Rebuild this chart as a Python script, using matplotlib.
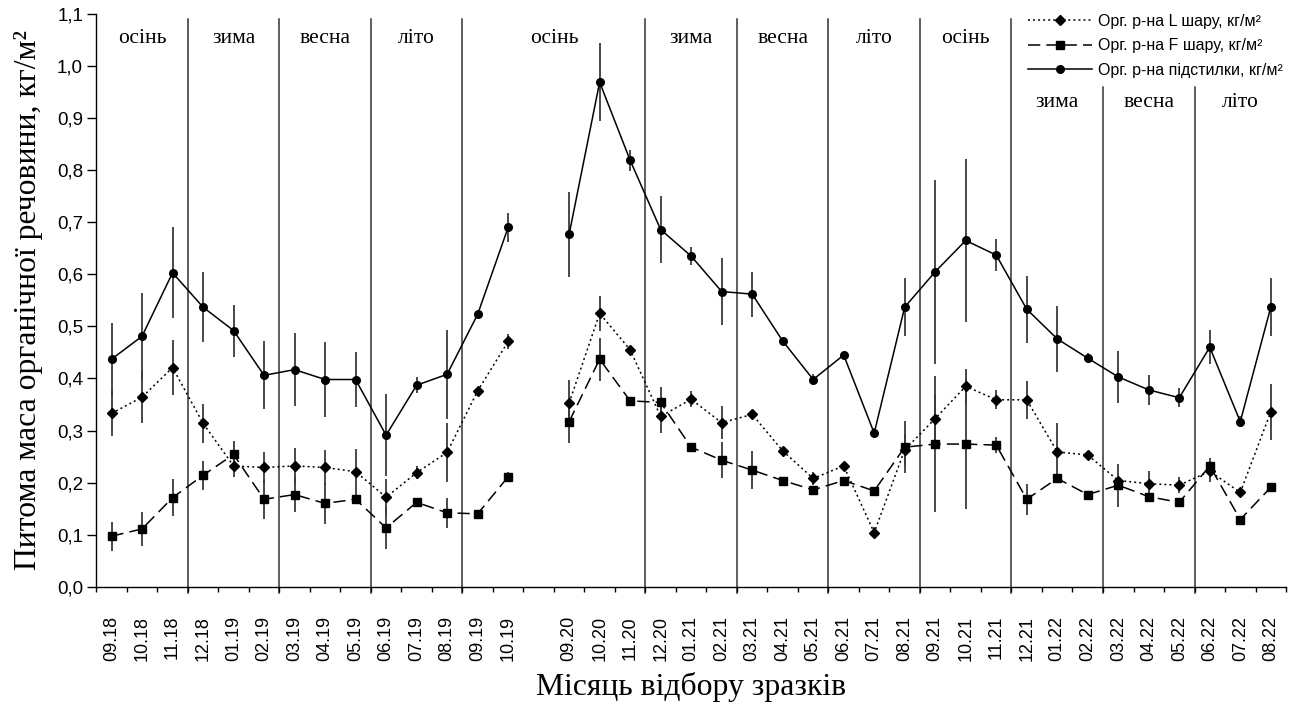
import numpy as np
import matplotlib
matplotlib.use("Agg")
import matplotlib.pyplot as plt
from matplotlib.ticker import FixedLocator, FuncFormatter

nan = np.nan

# Sampling months (empty slot separates the 2018-19 and 2020-22 campaigns)
months = ['09.18', '10.18', '11.18', '12.18', '01.19', '02.19', '03.19', '04.19',
          '05.19', '06.19', '07.19', '08.19', '09.19', '10.19', '',
          '09.20', '10.20', '11.20', '12.20', '01.21', '02.21', '03.21', '04.21',
          '05.21', '06.21', '07.21', '08.21', '09.21', '10.21', '11.21', '12.21',
          '01.22', '02.22', '03.22', '04.22', '05.22', '06.22', '07.22', '08.22']

# Organic matter of the L layer, kg/m2
layer_L = [0.333, 0.364, 0.421, 0.314, 0.232, 0.229, 0.232, 0.229, 0.221, 0.172,
           0.219, 0.258, 0.376, 0.471, nan,
           0.353, 0.525, 0.455, 0.327, 0.360, 0.315, 0.331, 0.261, 0.208, 0.232,
           0.104, 0.263, 0.323, 0.385, 0.359, 0.359, 0.259, 0.253, 0.204, 0.198,
           0.195, 0.222, 0.181, 0.336]
err_L = [0.044, 0.050, 0.052, 0.037, 0.022, 0.030, 0.034, 0.033, 0.043, 0.035,
         0.012, 0.056, 0.005, 0.015, nan,
         0.044, 0.033, 0.005, 0.032, 0.015, 0.032, 0.005, 0.005, 0.012, 0.005,
         0.010, 0.030, 0.045, 0.034, 0.018, 0.037, 0.056, 0.005, 0.005, 0.025,
         0.015, 0.020, 0.005, 0.054]

# Organic matter of the F layer, kg/m2
layer_F = [0.097, 0.111, 0.171, 0.214, 0.254, 0.168, 0.177, 0.160, 0.168, 0.113,
           0.162, 0.142, 0.140, 0.211, nan,
           0.317, 0.437, 0.357, 0.354, 0.268, 0.243, 0.224, 0.204, 0.186, 0.204,
           0.184, 0.268, 0.274, 0.274, 0.272, 0.168, 0.208, 0.177, 0.195, 0.173,
           0.162, 0.232, 0.129, 0.191]
err_F = [0.028, 0.033, 0.036, 0.028, 0.026, 0.037, 0.033, 0.040, 0.010, 0.041,
         0.005, 0.029, 0.005, 0.010, nan,
         0.040, 0.041, 0.005, 0.030, 0.005, 0.035, 0.037, 0.005, 0.005, 0.005,
         0.005, 0.050, 0.130, 0.125, 0.015, 0.030, 0.005, 0.005, 0.041, 0.005,
         0.005, 0.015, 0.005, 0.005]

# Organic matter of the whole litter, kg/m2
litter = [0.437, 0.481, 0.603, 0.537, 0.492, 0.406, 0.417, 0.398, 0.398, 0.291,
          0.387, 0.408, 0.523, 0.690, nan,
          0.677, 0.969, 0.819, 0.686, 0.635, 0.567, 0.562, 0.472, 0.398, 0.445,
          0.295, 0.537, 0.605, 0.665, 0.637, 0.533, 0.476, 0.439, 0.403, 0.378,
          0.363, 0.460, 0.317, 0.537]
err_litter = [0.070, 0.083, 0.087, 0.067, 0.050, 0.065, 0.070, 0.072, 0.053, 0.079,
              0.015, 0.086, 0.005, 0.028, nan,
              0.082, 0.075, 0.020, 0.065, 0.018, 0.065, 0.043, 0.005, 0.010, 0.005,
              0.010, 0.056, 0.177, 0.157, 0.030, 0.064, 0.063, 0.010, 0.050, 0.029,
              0.018, 0.033, 0.010, 0.056]

# Season bands: (label, first slot, last slot + 1, label row)
season_names = ['осінь', 'зима', 'весна', 'літо', 'осінь', 'зима', 'весна', 'літо',
                'осінь', 'зима', 'весна', 'літо']
season_edges = [0, 3, 6, 9, 12, 18, 21, 24, 27, 30, 33, 36, 39]
season_rows = [0, 0, 0, 0, 0, 0, 0, 0, 0, 1, 1, 1]

serif = ['Liberation Serif', 'DejaVu Serif']
sans = ['Liberation Sans', 'DejaVu Sans']
plt.rcParams['font.family'] = sans

fig = plt.figure(figsize=(13.01, 7.08), dpi=100)
ax = fig.add_axes([0.074, 0.1713, 0.9145, 0.8089])

x = np.arange(len(months))
ink = 'black'
bar_col = '#3a3a3a'

ax.errorbar(x, litter, yerr=err_litter, fmt='none', ecolor=bar_col, elinewidth=1.3,
            capsize=0, zorder=2)
ax.errorbar(x, layer_L, yerr=err_L, fmt='none', ecolor=bar_col, elinewidth=1.3,
            capsize=0, zorder=2)
ax.errorbar(x, layer_F, yerr=err_F, fmt='none', ecolor=bar_col, elinewidth=1.3,
            capsize=0, zorder=2)

ax.plot(x, layer_L, color=ink, lw=1.1, linestyle=(0, (1.3, 2.0)), marker='D',
        markersize=5.2, label='Орг. р-на L шару, кг/м²', zorder=3)
ax.plot(x, layer_F, color=ink, lw=1.1, linestyle=(0, (8, 4)), marker='s',
        markersize=5.2, label='Орг. р-на F шару, кг/м²', zorder=3)
ax.plot(x, litter, color=ink, lw=1.1, linestyle='-', marker='o',
        markersize=5.5, label='Орг. р-на підстилки, кг/м²', zorder=3)

# Season separators and labels
for k, name in enumerate(season_names):
    a, b = season_edges[k], season_edges[k + 1]
    row = season_rows[k]
    ax.text((a + b) / 2 - 0.5, 1.053 if row == 0 else 0.931, name,
            ha='center', va='center', fontsize=15.5, family=serif)
for e in season_edges[1:-1]:
    top = 0.96 if e in (33, 36) else 1.09
    ax.plot([e - 0.5, e - 0.5], [-0.012, top], color='#333333', lw=1.1,
            clip_on=False, zorder=1)

ax.set_xlim(-0.5, len(months) - 0.5)
ax.set_ylim(0, 1.1)

ax.xaxis.set_major_locator(FixedLocator(x))
ax.set_xticklabels(months, rotation=90, fontsize=13)
ax.xaxis.set_minor_locator(FixedLocator(np.arange(len(months) + 1) - 0.5))
ax.tick_params(axis='x', which='major', length=0, pad=21)
ax.tick_params(axis='x', which='minor', length=3.6, width=1.0, direction='out')

ax.set_yticks(np.round(np.arange(0, 1.11, 0.1), 1))
ax.yaxis.set_major_formatter(FuncFormatter(lambda v, p: f'{v:.1f}'.replace('.', ',')))
ax.tick_params(axis='y', length=6.5, width=1.0, direction='out', labelsize=13.5, pad=3)

for s in ('top', 'right'):
    ax.spines[s].set_visible(False)
for s in ('left', 'bottom'):
    ax.spines[s].set_linewidth(1.0)

ax.set_ylabel('Питома маса органічної речовини, кг/м²', family=serif, fontsize=22.8,
              labelpad=10)
ax.set_xlabel('Місяць відбору зразків', family=serif, fontsize=22.8, labelpad=8)

leg = ax.legend(loc='upper left', bbox_to_anchor=(1028 / 1301, 1 - 14 / 708),
                bbox_transform=fig.transFigure, frameon=False,
                prop={'family': sans, 'size': 11.5},
                handlelength=4.0, handletextpad=0.38, labelspacing=0.58,
                numpoints=1, borderaxespad=0, borderpad=0)

fig.savefig('out.png', dpi=100)
